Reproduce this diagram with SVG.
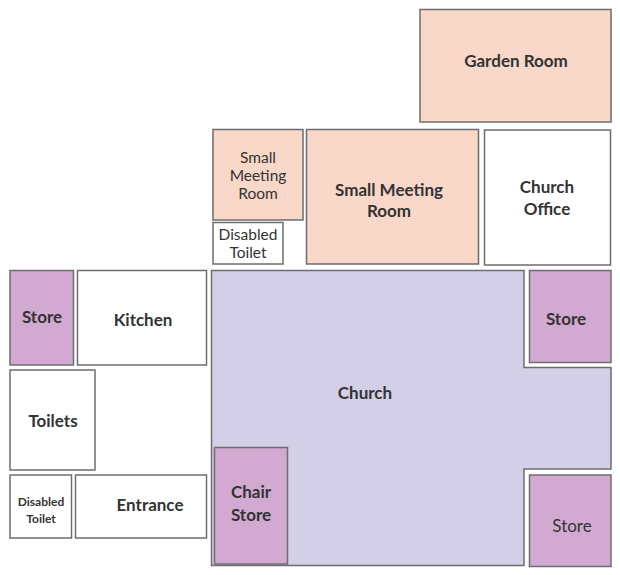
<svg xmlns="http://www.w3.org/2000/svg" width="620" height="575" viewBox="0 0 620 575">
<style>
.r{stroke:#6e6e6e;stroke-width:1.5}
.w{fill:#ffffff}
.p{fill:#f9d7c9}
.l{fill:#d3cfe7}
.s{fill:#d1a9d1}
text{font-family:Lato,"Open Sans","Liberation Sans",sans-serif;fill:#333;text-anchor:middle}
.b{font-weight:700;font-size:17px}
.n{font-weight:400;font-size:15.5px}
</style>
<rect width="620" height="575" fill="#ffffff"/>
<g id="church"><polygon class="r l" points="211.5,270.5 524,270.5 524,367.5 611,367.5 611,469 524,469 524,565.5 211.5,565.5"/><text class="b" x="365" y="399">Church</text></g>
<g id="garden-room"><rect class="r p" x="420" y="9.5" width="191" height="112.5"/><text class="b" x="516" y="67">Garden Room</text></g>
<g id="small-meeting-room-1"><rect class="r p" x="213" y="129.5" width="90" height="90.5"/><text class="n" x="258" y="163">Small</text><text class="n" x="258" y="181">Meeting</text><text class="n" x="258" y="199">Room</text></g>
<g id="small-meeting-room-2"><rect class="r p" x="306.5" y="129.5" width="172" height="134.5"/><text class="b" x="389" y="196">Small Meeting</text><text class="b" x="389" y="217">Room</text></g>
<g id="church-office"><rect class="r w" x="484.5" y="130" width="126" height="135"/><text class="b" x="547" y="193">Church</text><text class="b" x="547" y="215">Office</text></g>
<g id="disabled-toilet-1"><rect class="r w" x="213" y="222.5" width="70" height="41.5"/><text class="n" x="248" y="240">Disabled</text><text class="n" x="248" y="258">Toilet</text></g>
<g id="store-left"><rect class="r s" x="10" y="270.5" width="63.5" height="94.5"/><text class="b" x="42" y="323">Store</text></g>
<g id="kitchen"><rect class="r w" x="77.5" y="270.5" width="129" height="94.5"/><text class="b" x="143" y="326">Kitchen</text></g>
<g id="toilets"><rect class="r w" x="10" y="370" width="85" height="100"/><text class="b" x="53" y="427">Toilets</text></g>
<g id="disabled-toilet-2"><rect class="r w" x="10" y="475" width="61.5" height="63"/><text class="b" x="41" y="506" style="font-size:12px">Disabled</text><text class="b" x="41" y="523" style="font-size:12px">Toilet</text></g>
<g id="entrance"><rect class="r w" x="75.5" y="475" width="131" height="63"/><text class="b" x="150" y="511">Entrance</text></g>
<g id="chair-store"><rect class="r s" x="214.5" y="447.5" width="73" height="116.5"/><text class="b" x="251" y="498">Chair</text><text class="b" x="251" y="521">Store</text></g>
<g id="store-right-top"><rect class="r s" x="529.5" y="270.5" width="81.5" height="92"/><text class="b" x="566" y="325">Store</text></g>
<g id="store-right-bottom"><rect class="r s" x="529.5" y="475" width="81.5" height="91.5"/><text class="n" x="572" y="532" style="font-size:17px">Store</text></g>
<g id="connectors"></g>
</svg>
